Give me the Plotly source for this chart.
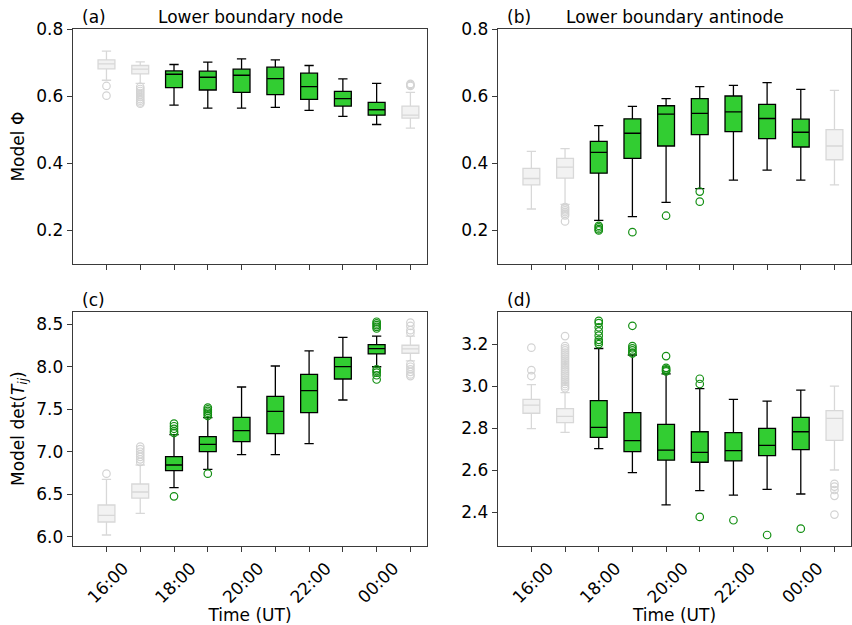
import plotly.graph_objects as go

# ---------------- data ----------------
positions = [1, 2, 3, 4, 5, 6, 7, 8, 9, 10]
label_positions = [1, 3, 5, 7, 9]
tick_labels = ["16:00", "18:00", "20:00", "22:00", "00:00"]
minor_positions = [2, 4, 6, 8, 10]
active = [False, False, True, True, True, True, True, True, True, False]

# (a) Lower boundary node, Model Phi
A_hi = [0.735, 0.703, 0.695, 0.702, 0.712, 0.709, 0.692, 0.652, 0.639, 0.612]
A_q3 = [0.709, 0.692, 0.676, 0.675, 0.681, 0.687, 0.669, 0.615, 0.582, 0.571]
A_med = [0.697, 0.681, 0.666, 0.657, 0.663, 0.653, 0.629, 0.593, 0.560, 0.544]
A_q1 = [0.682, 0.667, 0.626, 0.619, 0.612, 0.605, 0.591, 0.571, 0.544, 0.535]
A_lo = [0.648, 0.639, 0.574, 0.565, 0.565, 0.567, 0.558, 0.540, 0.516, 0.505]
A_out = [[0.631, 0.602],
         [0.628, 0.622, 0.616, 0.610, 0.604, 0.598, 0.592, 0.587, 0.582, 0.578],
         [], [], [], [], [], [], [],
         [0.637, 0.634, 0.631]]

# (b) Lower boundary antinode, Model Phi
B_hi = [0.436, 0.444, 0.513, 0.570, 0.593, 0.629, 0.633, 0.641, 0.621, 0.618]
B_q3 = [0.385, 0.415, 0.466, 0.533, 0.572, 0.593, 0.601, 0.576, 0.532, 0.501]
B_med = [0.355, 0.389, 0.433, 0.490, 0.547, 0.549, 0.554, 0.534, 0.493, 0.452]
B_q1 = [0.336, 0.356, 0.371, 0.415, 0.452, 0.486, 0.495, 0.474, 0.449, 0.411]
B_lo = [0.264, 0.278, 0.230, 0.241, 0.284, 0.325, 0.350, 0.380, 0.350, 0.336]
B_out = [[],
         [0.270, 0.265, 0.260, 0.255, 0.250, 0.245, 0.227],
         [0.214, 0.209, 0.204, 0.200],
         [0.195],
         [0.244],
         [0.316, 0.286],
         [], [], [], []]

# (c) Lower boundary node, Model det(T_ij)
C_hi = [6.675, 6.844, 7.201, 7.401, 7.762, 8.009, 8.186, 8.347, 8.360, 8.360]
C_q3 = [6.373, 6.620, 6.942, 7.177, 7.405, 7.652, 7.911, 8.111, 8.261, 8.253]
C_med = [6.251, 6.526, 6.844, 7.087, 7.248, 7.476, 7.719, 8.002, 8.214, 8.210]
C_q1 = [6.173, 6.455, 6.777, 7.001, 7.119, 7.213, 7.460, 7.856, 8.151, 8.159]
C_lo = [6.020, 6.275, 6.577, 6.793, 6.965, 6.965, 7.095, 7.609, 8.000, 8.070]
C_out = [[6.742],
         [7.06, 7.03, 7.00, 6.97, 6.94, 6.91, 6.88],
         [7.33, 7.30, 7.27, 7.24, 7.22, 6.475],
         [7.52, 7.50, 7.48, 7.46, 7.44, 7.42, 6.742],
         [], [], [], [],
         [8.53, 8.51, 8.49, 8.47, 8.45, 7.97, 7.95, 7.93, 7.90, 7.85],
         [8.52, 8.48, 8.43, 8.40, 8.03, 8.00, 7.97, 7.94, 7.91, 7.89]]

# (d) Lower boundary antinode, Model det(T_ij)
D_hi = [3.007, 2.969, 3.179, 3.148, 3.058, 2.988, 2.937, 2.929, 2.981, 3.000]
D_q3 = [2.937, 2.893, 2.931, 2.874, 2.818, 2.783, 2.779, 2.799, 2.851, 2.883]
D_med = [2.910, 2.856, 2.804, 2.741, 2.696, 2.685, 2.693, 2.718, 2.783, 2.847]
D_q1 = [2.871, 2.826, 2.756, 2.688, 2.648, 2.638, 2.644, 2.669, 2.698, 2.742]
D_lo = [2.798, 2.780, 2.703, 2.589, 2.435, 2.503, 2.482, 2.509, 2.487, 2.601]
D_out = [[3.183, 3.076, 3.048],
         [3.238, 3.19, 3.18, 3.17, 3.16, 3.15, 3.14, 3.13, 3.12, 3.11, 3.10,
          3.09, 3.08, 3.07, 3.06, 3.05, 3.04, 3.03, 3.02, 3.01, 3.00, 2.99],
         [3.31, 3.30, 3.28, 3.26, 3.24, 3.22, 3.21, 3.20],
         [3.287, 3.19, 3.18, 3.17, 3.16, 3.155],
         [3.143, 3.087, 3.08, 3.075, 3.07],
         [3.035, 3.01, 2.378],
         [2.362],
         [2.292],
         [2.322],
         [2.535, 2.522, 2.506, 2.478, 2.389]]

panel_titles = ["Lower boundary node", "Lower boundary antinode", "", ""]
panel_letters = ["(a)", "(b)", "(c)", "(d)"]

# ---------------- style ----------------
W, H = 852, 625
FONT = "DejaVu Sans"
FS = 17
GREEN_FILL = "#32cd32"
GREEN_OUT = "#138f13"
GRAY_LINE = "#d8d8d8"
GRAY_FILL = "#f2f2f2"
GRAY_OUT = "#d3d3d3"
SPINE = "#3a3a3a"

# panel pixel boxes: left, right, top, bottom
boxes = [(72.7, 427.3, 29.3, 264.0),
         (497.7, 851.3, 29.3, 264.0),
         (72.7, 427.3, 311.7, 545.7),
         (497.7, 851.3, 311.7, 545.7)]
yranges = [[0.1, 0.8], [0.1, 0.8], [5.894, 8.648], [2.241, 3.354]]
ytickvals = [[0.2, 0.4, 0.6, 0.8], [0.2, 0.4, 0.6, 0.8],
             [6.0, 6.5, 7.0, 7.5, 8.0, 8.5], [2.4, 2.6, 2.8, 3.0, 3.2]]
ytitles = ["Model \u03a6", "", "Model det(<i>T</i><sub><i>ij</i></sub>)", ""]

panels = [(A_q1, A_med, A_q3, A_lo, A_hi, A_out),
          (B_q1, B_med, B_q3, B_lo, B_hi, B_out),
          (C_q1, C_med, C_q3, C_lo, C_hi, C_out),
          (D_q1, D_med, D_q3, D_lo, D_hi, D_out)]

fig = go.Figure()
annotations = []

for i, (q1, med, q3, lo, hi, outs) in enumerate(panels):
    n = "" if i == 0 else str(i + 1)
    xa, ya = "x" + n, "y" + n
    for is_act in (False, True):
        idx = [k for k in range(len(positions)) if active[k] == is_act]
        fig.add_trace(go.Box(
            x=[positions[k] for k in idx],
            q1=[q1[k] for k in idx], median=[med[k] for k in idx],
            q3=[q3[k] for k in idx], lowerfence=[lo[k] for k in idx],
            upperfence=[hi[k] for k in idx],
            width=0.5, whiskerwidth=0.55, boxpoints=False,
            fillcolor=GREEN_FILL if is_act else GRAY_FILL,
            line=dict(color="black" if is_act else GRAY_LINE, width=1.3),
            xaxis=xa, yaxis=ya, showlegend=False, hoverinfo="skip"))
        ox, oy = [], []
        for k in idx:
            for v in outs[k]:
                ox.append(positions[k])
                oy.append(v)
        fig.add_trace(go.Scatter(
            x=ox, y=oy, mode="markers",
            marker=dict(symbol="circle-open", size=7.5,
                        color=GREEN_OUT if is_act else GRAY_OUT,
                        line=dict(width=1.2)),
            xaxis=xa, yaxis=ya, showlegend=False, hoverinfo="skip"))

    l, r, t, b = boxes[i]
    bottom = i >= 2
    xkey = "xaxis" + n
    ykey = "yaxis" + n
    xdict = dict(domain=[l / W, r / W], anchor=ya, range=[0, 10.5],
                 automargin=False,
                 tickmode="array", tickvals=label_positions, ticktext=tick_labels,
                 showticklabels=bottom, tickangle=-45, ticklabelshift=17,
                 ticks="outside", ticklen=5, tickwidth=1, tickcolor=SPINE,
                 minor=dict(tickmode="array", tickvals=minor_positions,
                            ticks="outside", ticklen=5, tickwidth=1,
                            tickcolor=SPINE, showgrid=False),
                 showline=True, linecolor=SPINE, linewidth=1, mirror=True,
                 showgrid=False, zeroline=False,
                 tickfont=dict(family=FONT, size=FS, color="black"))
    if bottom:
        xdict["title"] = dict(text="Time (UT)",
                              font=dict(family=FONT, size=FS, color="black"),
                              standoff=5)
    ydict = dict(domain=[1 - b / H, 1 - t / H], anchor=xa, range=yranges[i],
                 automargin=False,
                 tickmode="array", tickvals=ytickvals[i], tickformat=".1f",
                 ticks="outside", ticklen=5, tickwidth=1, tickcolor=SPINE,
                 showline=True, linecolor=SPINE, linewidth=1, mirror=True,
                 showgrid=False, zeroline=False,
                 tickfont=dict(family=FONT, size=FS, color="black"))
    if ytitles[i]:
        ydict["title"] = dict(text=ytitles[i],
                              font=dict(family=FONT, size=FS, color="black"),
                              standoff=7)
    fig.update_layout(**{xkey: xdict, ykey: ydict})

    # panel letters and titles
    annotations.append(dict(text=panel_letters[i], xref="paper", yref="paper",
                            x=(l + 7.5) / W, y=1 - (t - 12) / H,
                            xanchor="left", yanchor="middle", showarrow=False,
                            font=dict(family=FONT, size=FS, color="black")))
    if panel_titles[i]:
        annotations.append(dict(text=panel_titles[i], xref="paper", yref="paper",
                                x=(l + r) / 2 / W, y=1 - (t - 12) / H,
                                xanchor="center", yanchor="middle", showarrow=False,
                                font=dict(family=FONT, size=FS, color="black")))

fig.update_layout(width=W, height=H, margin=dict(l=0, r=0, t=0, b=0),
                  paper_bgcolor="white", plot_bgcolor="white",
                  boxmode="overlay", annotations=annotations,
                  font=dict(family=FONT, size=FS, color="black"))

fig.write_html("out.html")
